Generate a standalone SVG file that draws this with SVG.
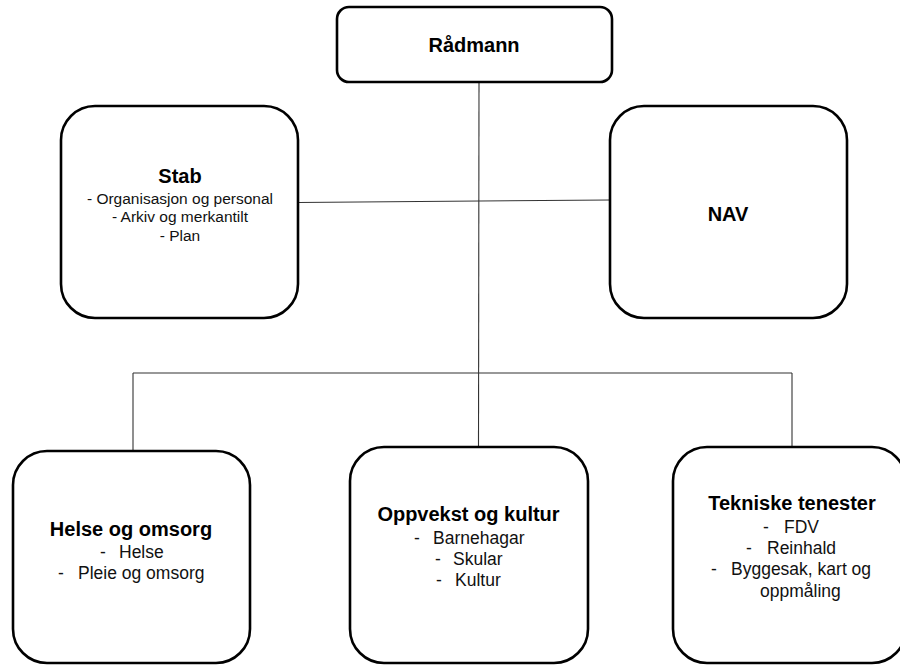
<svg xmlns="http://www.w3.org/2000/svg" width="900" height="665" viewBox="0 0 900 665">
<style>
.box{fill:#fff;stroke:#000;stroke-width:2.6}
.con{fill:none;stroke:#333;stroke-width:1.1}
.t{font-family:"Liberation Sans",Arial,sans-serif;font-weight:bold;font-size:20px;fill:#000;text-anchor:middle}
.s{font-family:"Liberation Sans",Arial,sans-serif;font-size:15.5px;fill:#111;text-anchor:middle}
.i{font-family:"Liberation Sans",Arial,sans-serif;font-size:17.5px;fill:#111}
</style>
<rect width="900" height="665" fill="#fff"/>
<g id="connectors">
<line class="con" x1="298" y1="202.5" x2="610" y2="200"/>
<line class="con" x1="479" y1="82" x2="478.5" y2="447"/>
<line class="con" x1="133" y1="373" x2="792" y2="373"/>
<line class="con" x1="133" y1="373" x2="133" y2="451"/>
<line class="con" x1="792" y1="373" x2="792" y2="447"/>
</g>
<g id="radmann">
<rect class="box" x="337" y="7" width="275" height="75" rx="12"/>
<text class="t" x="474" y="52">Rådmann</text>
</g>
<g id="stab">
<rect class="box" x="61" y="106" width="237" height="212" rx="34"/>
<text class="t" x="180" y="183">Stab</text>
<text class="s" x="180" y="204">- Organisasjon og personal</text>
<text class="s" x="180" y="222">- Arkiv og merkantilt</text>
<text class="s" x="180" y="241">- Plan</text>
</g>
<g id="nav">
<rect class="box" x="610" y="106" width="237" height="212" rx="34"/>
<text class="t" x="728" y="221">NAV</text>
</g>
<g id="helse">
<rect class="box" x="13" y="451" width="237" height="212" rx="34"/>
<text class="t" x="131" y="536">Helse og omsorg</text>
<text class="i" y="558"><tspan x="100">-</tspan><tspan x="119">Helse</tspan></text>
<text class="i" y="579"><tspan x="58">-</tspan><tspan x="78">Pleie og omsorg</tspan></text>
</g>
<g id="oppvekst">
<rect class="box" x="350" y="447" width="238" height="216" rx="34"/>
<text class="t" x="468.5" y="521">Oppvekst og kultur</text>
<text class="i" y="544"><tspan x="414">-</tspan><tspan x="433">Barnehagar</tspan></text>
<text class="i" y="565"><tspan x="435">-</tspan><tspan x="453">Skular</tspan></text>
<text class="i" y="586"><tspan x="436">-</tspan><tspan x="455">Kultur</tspan></text>
</g>
<g id="tekniske">
<rect class="box" x="673" y="447" width="233" height="216" rx="34"/>
<text class="t" x="792" y="510">Tekniske tenester</text>
<text class="i" y="533"><tspan x="763">-</tspan><tspan x="784">FDV</tspan></text>
<text class="i" y="554"><tspan x="746">-</tspan><tspan x="767">Reinhald</tspan></text>
<text class="i" y="575"><tspan x="711">-</tspan><tspan x="731">Byggesak, kart og</tspan></text>
<text class="i" y="597"><tspan x="760">oppmåling</tspan></text>
</g>
</svg>
